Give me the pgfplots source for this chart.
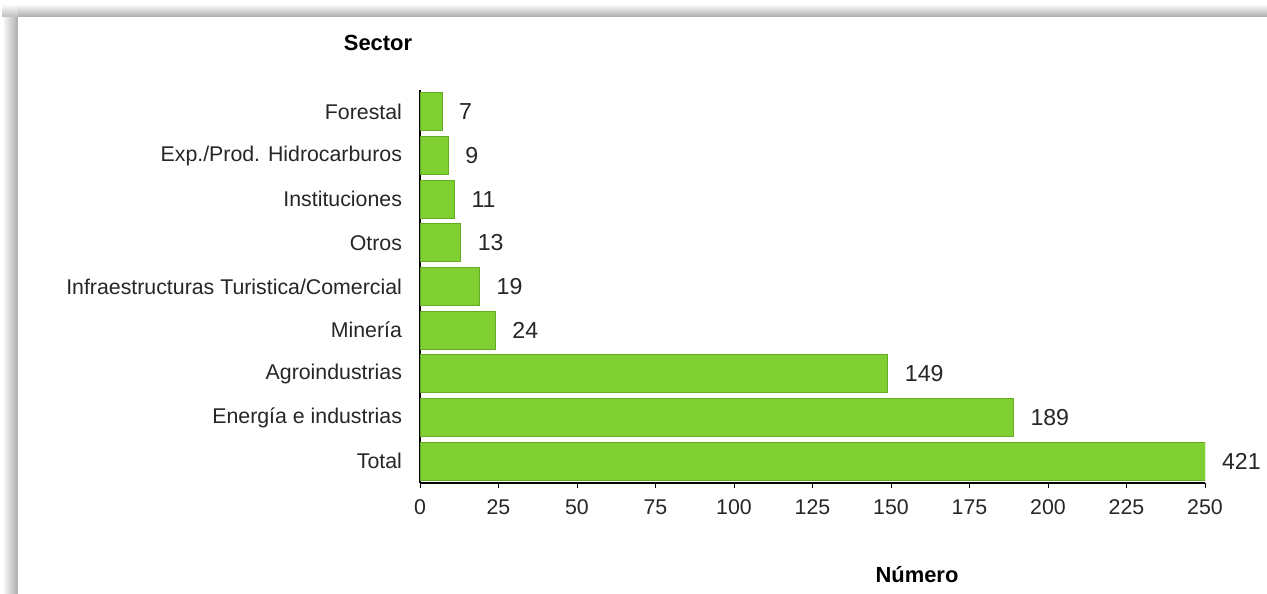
\documentclass[border=0pt]{standalone}
\usepackage{pgfplots}
\pgfplotsset{compat=1.18}
\usepackage{pgfplotstable}
\usepackage{fontspec}
\setmainfont{Liberation Sans}
\definecolor{bargreen}{RGB}{128,207,50}
\definecolor{baredge}{RGB}{100,170,35}
\definecolor{shadowdark}{RGB}{172,172,172}
\pgfplotstableread{
idx value
0 421
1 189
2 149
3 24
4 19
5 13
6 11
7 9
8 7
}\sectores
\begin{document}
\begin{tikzpicture}
\useasboundingbox (0bp,0bp) rectangle (633.5bp,297bp);
% frame / shadow
\fill[white] (0bp,0bp) rectangle (633.5bp,297bp);
\shade[top color=white, bottom color=shadowdark] (1.5bp,288.5bp) rectangle (633.5bp,295bp);
\shade[left color=white, right color=shadowdark] (1bp,0bp) rectangle (9bp,288.5bp);
\shade[top color=white, bottom color=shadowdark!80!white] (1bp,288.5bp) rectangle (9bp,295bp);
\fill[white] (9bp,0bp) rectangle (633.5bp,288.5bp);
\begin{axis}[
  at={(210bp,55.5bp)}, anchor=south west,
  scale only axis,
  width=392.5bp, height=196.5bp,
  xbar, bar width=0.87,
  xmin=0, xmax=250,
  ymin=-0.5, ymax=8.5,
  xtick={0,25,...,250},
  ytick={0,...,8},
  yticklabels={Total,Energía e industrias,Agroindustrias,Minería,Infraestructuras Turistica/Comercial,Otros,Instituciones,Exp./Prod. Hidrocarburos,Forestal},
  minor ytick={-0.5,0.5,...,8.5},
  axis x line*=bottom, axis y line*=left,
  axis line style={-, line width=1bp, black},
  tick align=outside,
  major tick length=2.5bp, minor tick length=2.5bp,
  ytick style={draw=none},
  minor tick style={black, line width=0.4bp},
  xtick style={black, line width=0.4bp},
  every tick label/.append style={font=\fontsize{10.7}{12}\selectfont, text=black!85},
  /pgf/number format/assume math mode=true,
  yticklabel style={xshift=-3bp},
  xticklabel style={yshift=-2.5bp},
  nodes near coords,
  point meta=explicit,
  nodes near coords style={anchor=west, xshift=5bp, font=\fontsize{11.6}{13}\selectfont, text=black!85},
  clip=true,
]
\addplot[fill=bargreen, draw=baredge, line width=0.4bp]
  table[y=idx, x expr={min(\thisrow{value},250)}, meta=value] {\sectores};
\end{axis}
\node[font=\fontsize{11}{13}\selectfont\bfseries] at (189bp,275.5bp) {Sector};
\node[font=\fontsize{11}{13}\selectfont\bfseries] at (458.5bp,9.5bp) {Número};
\end{tikzpicture}
\end{document}
